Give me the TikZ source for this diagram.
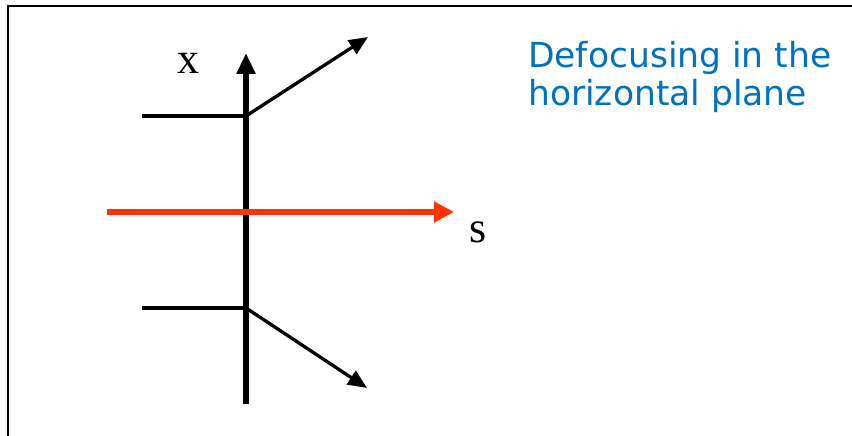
\documentclass[tikz,border=0pt]{standalone}
\usepackage{fontspec}
\setmainfont{Liberation Serif}
\newfontfamily\titlefont{DejaVu Sans}
\usetikzlibrary{arrows.meta}
\definecolor{beamred}{RGB}{255,51,0}
\definecolor{noteblue}{RGB}{0,112,192}

\begin{document}
\begin{tikzpicture}[
  x=1pt,y=-1pt,
  axis/.style={line width=6pt,-{Triangle[length=21pt,width=18pt]}},
  ray/.style={line width=3.3pt},
  bent/.style={ray,-{Triangle[length=19pt,width=16pt]}},
  beam/.style={draw=beamred,line width=6.5pt,-{Triangle[length=20pt,width=20pt]}},
  lbl/.style={font=\fontsize{44}{46}\selectfont,inner sep=0pt}
]
\useasboundingbox (0,0) rectangle (852,436);
\draw[line width=2.2pt] (8,436) -- (8,6) -- (852,6);

% lens axis and beam
\coordinate (axbot) at (246,404);
\coordinate (axtop) at (246,53);
\coordinate (sin) at (107,212);
\coordinate (send) at (454,212);
\draw[axis] (axbot) -- (axtop);
\draw[beam] (sin) -- (send);

% incoming rays and defocused exits
\coordinate (upin) at (142,116);
\coordinate (upkink) at (246,116);
\coordinate (uptip) at (368,37);
\coordinate (loin) at (142,308);
\coordinate (lokink) at (246,308);
\coordinate (lotip) at (367,388);
\draw[ray] (upin) -- (upkink);
\draw[bent] (upkink) -- (uptip);
\draw[ray] (loin) -- (lokink);
\draw[bent] (lokink) -- (lotip);

\node[lbl] (xlab) at (188,63) {x};
\node[lbl] (slab) at (478,232) {s};
\node[anchor=base west,inner sep=0pt,align=left,text=noteblue,
  font=\titlefont\fontsize{34.5}{39}\selectfont] (note) at (528,106)
  {Defocusing in the\\horizontal plane};
\end{tikzpicture}
\end{document}
